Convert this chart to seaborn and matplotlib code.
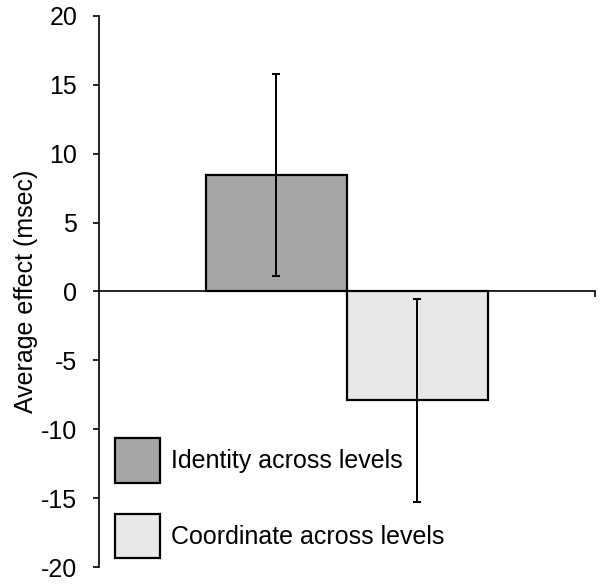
import matplotlib
matplotlib.use('Agg')
import matplotlib.pyplot as plt
import pandas as pd
import seaborn as sns
from matplotlib.patches import Patch

conditions = ['Identity across levels', 'Coordinate across levels']
effects = [8.45, -7.9]
errors = [7.35, 7.35]
bar_colors = ['#A6A6A6', '#E8E8E8']

sns.set_style('ticks')
plt.rcParams['font.family'] = ['Liberation Sans', 'DejaVu Sans']
plt.rcParams['text.color'] = 'black'
plt.rcParams['axes.labelcolor'] = 'black'
plt.rcParams['xtick.color'] = 'black'
plt.rcParams['ytick.color'] = 'black'
plt.rcParams['axes.edgecolor'] = 'black'

df = pd.DataFrame({'condition': conditions, 'effect': effects})

fig = plt.figure(figsize=(6.06, 5.86), dpi=100)
ax = fig.add_axes([0.163, 0.0324, 0.819, 0.9406])

sns.barplot(data=df, x='condition', y='effect', hue='condition',
            palette=bar_colors, width=1.0, dodge=False, errorbar=None,
            edgecolor='black', linewidth=1.6, legend=False, ax=ax)

# error bars on the category positions
ax.errorbar(range(len(conditions)), effects, yerr=errors, fmt='none',
            ecolor='black', elinewidth=1.4, capsize=3, capthick=1.4)

ax.set_xlim(-1.26, 2.26)
ax.set_ylim(-20, 20)
ax.set_yticks(range(-20, 21, 5))
ax.set_yticklabels([str(v) for v in range(-20, 21, 5)])
ax.tick_params(axis='y', labelsize=18, length=4.5, width=1.2, direction='out', pad=11)
ax.set_ylabel('Average effect (msec)', fontsize=18, labelpad=2)
ax.set_xlabel('')

# x axis drawn at zero with a single tick at its right end
sns.despine(ax=ax, top=True, right=True)
ax.spines['bottom'].set_position(('data', 0))
ax.spines['bottom'].set_linewidth(1.2)
ax.spines['left'].set_linewidth(1.2)
ax.set_xticks([2.26])
ax.set_xticklabels([''])
ax.tick_params(axis='x', length=4, width=1.2, direction='out')
ax.set_zorder(1)

handles = [Patch(facecolor=c, edgecolor='black', linewidth=1.6) for c in bar_colors]
ax.legend(handles, conditions, loc='lower left', bbox_to_anchor=(0.032, 0.016),
          frameon=False, fontsize=18, handlelength=1.8, handleheight=2.35,
          labelspacing=1.25, handletextpad=0.45, borderpad=0, borderaxespad=0)

fig.savefig('out.png', dpi=100)
